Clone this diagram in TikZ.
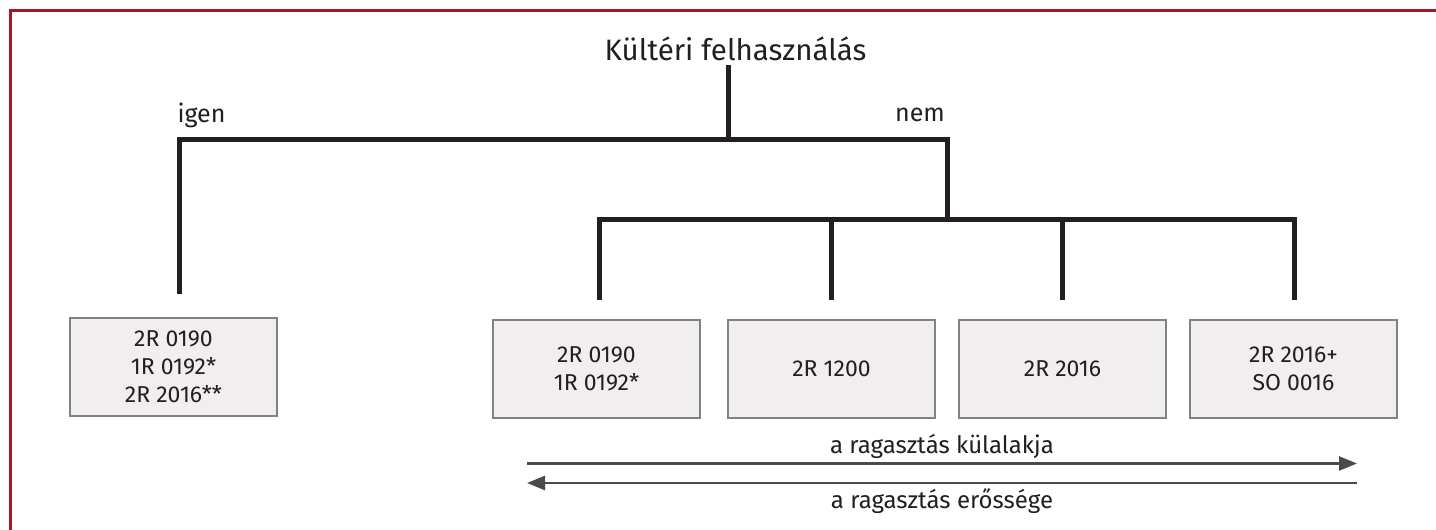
\documentclass[tikz,border=0pt]{standalone}
\usepackage{fontspec}
\setmainfont{Fira Sans}
\usetikzlibrary{arrows.meta}
\definecolor{frame}{HTML}{A3192B}
\definecolor{ink}{HTML}{231F20}
\definecolor{boxfill}{HTML}{F0EEEF}
\definecolor{boxline}{HTML}{828282}
\definecolor{arrowc}{HTML}{4A4A4A}
\tikzset{
  tree/.style={draw=ink, line width=5pt, line join=miter, line cap=butt},
  leaf/.style={draw=boxline, line width=2pt, fill=boxfill, minimum width=207pt, minimum height=98pt,
    align=center, text=ink, inner sep=0pt, font=\fontsize{23}{28}\selectfont},
  lbl/.style={text=ink, inner sep=0pt, anchor=base},
  scalearrow/.style={draw=arrowc, line width=2.5pt, -{Triangle[length=18pt,width=14pt]}}
}
\begin{document}
\begin{tikzpicture}[x=1pt,y=-1pt]
\useasboundingbox (0,0) rectangle (1436,530);
\fill[white] (0,0) rectangle (1436,530);
% frame
\draw[frame, line width=3pt] (10.5,530) -- (10.5,10) -- (1436,10);

% texts
\node[lbl, font=\fontsize{29.5}{34}\selectfont] (title) at (735.5,60) {Kültéri felhasználás};
\node[lbl, font=\fontsize{25}{28}\selectfont] (igen) at (201.5,122) {igen};
\node[lbl, font=\fontsize{25}{28}\selectfont] (nem) at (920,121) {nem};

% boxes
\node[leaf] (b0) at (173.5,366.5) {2R 0190\\1R 0192*\\2R 2016**};
\node[leaf] (b1) at (596.5,369) {2R 0190\\1R 0192*};
\node[leaf] (b2) at (831.5,369) {2R 1200};
\node[leaf] (b3) at (1062.5,369) {2R 2016};
\node[leaf] (b4) at (1293.5,369) {2R 2016+\\SO 0016};

% tree coordinates
\coordinate (t0) at (728,65);
\coordinate (j0) at (728,139.5);
\coordinate (jl) at (179,139.5);
\coordinate (jr) at (947,139.5);
\coordinate (k0) at (947,219.5);
\coordinate (e0) at (179,294);
\coordinate (e1) at (599,300);
\coordinate (e2) at (831,300);
\coordinate (e3) at (1062,300);
\coordinate (e4) at (1294,300);

\draw[tree] (t0) -- (j0);
\draw[tree] (e0) -- (jl) -- (jr) -- (k0);
\draw[tree] (e1) |- (k0) -| (e4);
\draw[tree] (e2 |- k0) -- (e2);
\draw[tree] (e3 |- k0) -- (e3);

% scale arrows
\coordinate (aL1) at (527,463.5);
\coordinate (aR1) at (1357,463.5);
\coordinate (aL2) at (527,483);
\coordinate (aR2) at (1357,483);
\draw[scalearrow] (aL1) -- (aR1);
\draw[scalearrow] (aR2) -- (aL2);
\node[lbl, font=\fontsize{24}{28}\selectfont] (look) at (942,453) {a ragasztás külalakja};
\node[lbl, font=\fontsize{24}{28}\selectfont] (strength) at (942,508) {a ragasztás erőssége};
\end{tikzpicture}
\end{document}
